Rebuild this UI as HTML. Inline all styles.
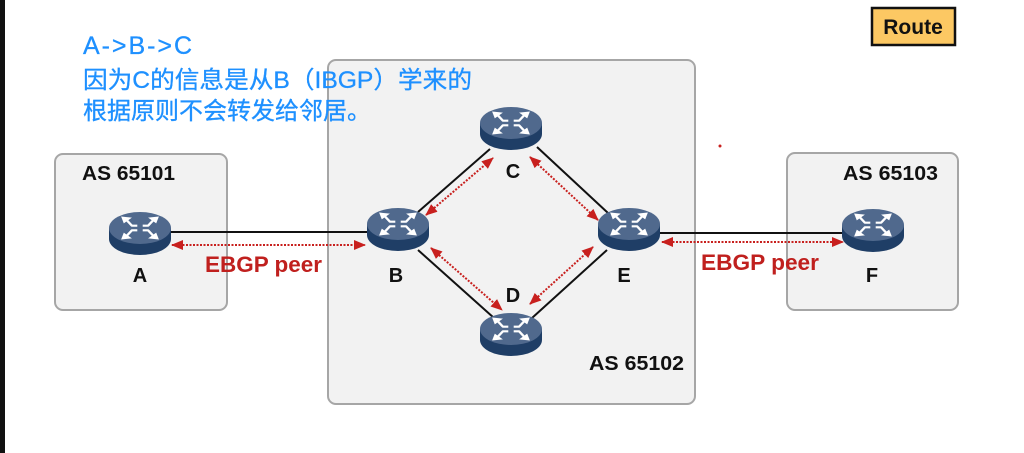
<!DOCTYPE html>
<html><head><meta charset="utf-8"><style>
html,body{margin:0;padding:0;background:#fff;}
svg{display:block;}
</style></head><body>
<svg width="1024" height="453" viewBox="0 0 1024 453" xmlns="http://www.w3.org/2000/svg">
<defs>
<marker id="ah" viewBox="0 0 12 10" refX="11" refY="5" markerWidth="12" markerHeight="10" markerUnits="userSpaceOnUse" orient="auto-start-reverse">
<path d="M0,0 L12,5 L0,10 Z" fill="#c8201e"/>
</marker>
<g id="arw">
<path d="M1,-1 L5,-1 L9,-6" stroke="#fff" stroke-width="1.8" fill="none" stroke-linejoin="round"/>
<path d="M13,-9 L5,-8 L11,-3 Z" fill="#fff"/>
</g>
<g id="rt">
<path d="M-31,0 L-31,11 A31,16 0 0 0 31,11 L31,0 Z" fill="#1f3e66"/>
<ellipse cx="0" cy="0" rx="31" ry="16" fill="#50698d"/>
<g transform="scale(1.35,1.15)">
<use href="#arw" transform="translate(1,-1)"/>
<use href="#arw" transform="translate(-1,-1) scale(-1,1)"/>
<use href="#arw" transform="translate(1,1) scale(1,-1)"/>
<use href="#arw" transform="translate(-1,1) scale(-1,-1)"/>
</g>
</g>
</defs>
<rect x="0" y="0" width="5" height="453" fill="#111"/>

<!-- AS boxes -->
<rect x="55" y="154" width="172" height="156" rx="8" fill="#f2f2f2" stroke="#a6a6a6" stroke-width="2"/>
<rect x="328" y="60" width="367" height="344" rx="8" fill="#f2f2f2" stroke="#a6a6a6" stroke-width="2"/>
<rect x="787" y="153" width="171" height="157" rx="8" fill="#f2f2f2" stroke="#a6a6a6" stroke-width="2"/>

<!-- Route box -->
<rect x="872" y="8" width="83" height="37" fill="#fcc863" stroke="#111" stroke-width="2.5"/>
<text x="913" y="34" font-family="Liberation Sans, sans-serif" font-weight="bold" font-size="21" text-anchor="middle" fill="#111">Route</text>

<!-- black links -->
<g stroke="#111" stroke-width="2">
<line x1="170" y1="232" x2="368" y2="232"/>
<line x1="660" y1="233" x2="843" y2="233"/>
<line x1="418" y1="212" x2="490" y2="149"/>
<line x1="537" y1="147" x2="608" y2="213"/>
<line x1="418" y1="250" x2="494" y2="318"/>
<line x1="532" y1="318" x2="607" y2="250"/>
</g>

<!-- red dotted peer arrows -->
<g stroke="#c8201e" stroke-width="2" stroke-dasharray="2 1.5" fill="none" marker-start="url(#ah)" marker-end="url(#ah)">
<line x1="172" y1="245" x2="365" y2="245"/>
<line x1="662" y1="242" x2="843" y2="242"/>
<line x1="426" y1="215" x2="493" y2="158"/>
<line x1="530" y1="157" x2="598" y2="220"/>
<line x1="431" y1="248" x2="502" y2="310"/>
<line x1="530" y1="304" x2="593" y2="247"/>
</g>
<circle cx="720" cy="146" r="1.5" fill="#c8201e"/>

<!-- routers -->
<use href="#rt" x="140" y="228"/>
<use href="#rt" x="398" y="224"/>
<use href="#rt" x="511" y="123"/>
<use href="#rt" x="511" y="329"/>
<use href="#rt" x="629" y="224"/>
<use href="#rt" x="873" y="225"/>

<!-- labels -->
<g font-family="Liberation Sans, sans-serif" font-weight="bold" fill="#111" font-size="20" text-anchor="middle">
<text x="140" y="282">A</text>
<text x="396" y="282">B</text>
<text x="513" y="178">C</text>
<text x="513" y="302">D</text>
<text x="624" y="282">E</text>
<text x="872" y="282">F</text>
</g>
<g font-family="Liberation Sans, sans-serif" font-weight="bold" fill="#111" font-size="20">
<text x="82" y="180" textLength="93" lengthAdjust="spacingAndGlyphs">AS 65101</text>
<text x="589" y="370" textLength="95" lengthAdjust="spacingAndGlyphs">AS 65102</text>
<text x="843" y="180" textLength="95" lengthAdjust="spacingAndGlyphs">AS 65103</text>
</g>
<g font-family="Liberation Sans, sans-serif" font-weight="bold" fill="#c0201e" font-size="22">
<text x="205" y="272" textLength="117" lengthAdjust="spacingAndGlyphs">EBGP peer</text>
<text x="701" y="270" textLength="118" lengthAdjust="spacingAndGlyphs">EBGP peer</text>
</g>

<!-- blue annotation -->
<g font-family="Liberation Sans, 'Noto Sans CJK SC', sans-serif" fill="#1e90ff" stroke="#1e90ff" stroke-width="0.3" font-size="24">
<text x="83" y="54" font-size="25" textLength="109" lengthAdjust="spacing">A-&gt;B-&gt;C</text>
<text x="83" y="88" textLength="389" lengthAdjust="spacingAndGlyphs">因为C的信息是从B（IBGP）学来的</text>
<text x="83" y="119" textLength="288" lengthAdjust="spacingAndGlyphs">根据原则不会转发给邻居。</text>
</g>
</svg>
</body></html>
